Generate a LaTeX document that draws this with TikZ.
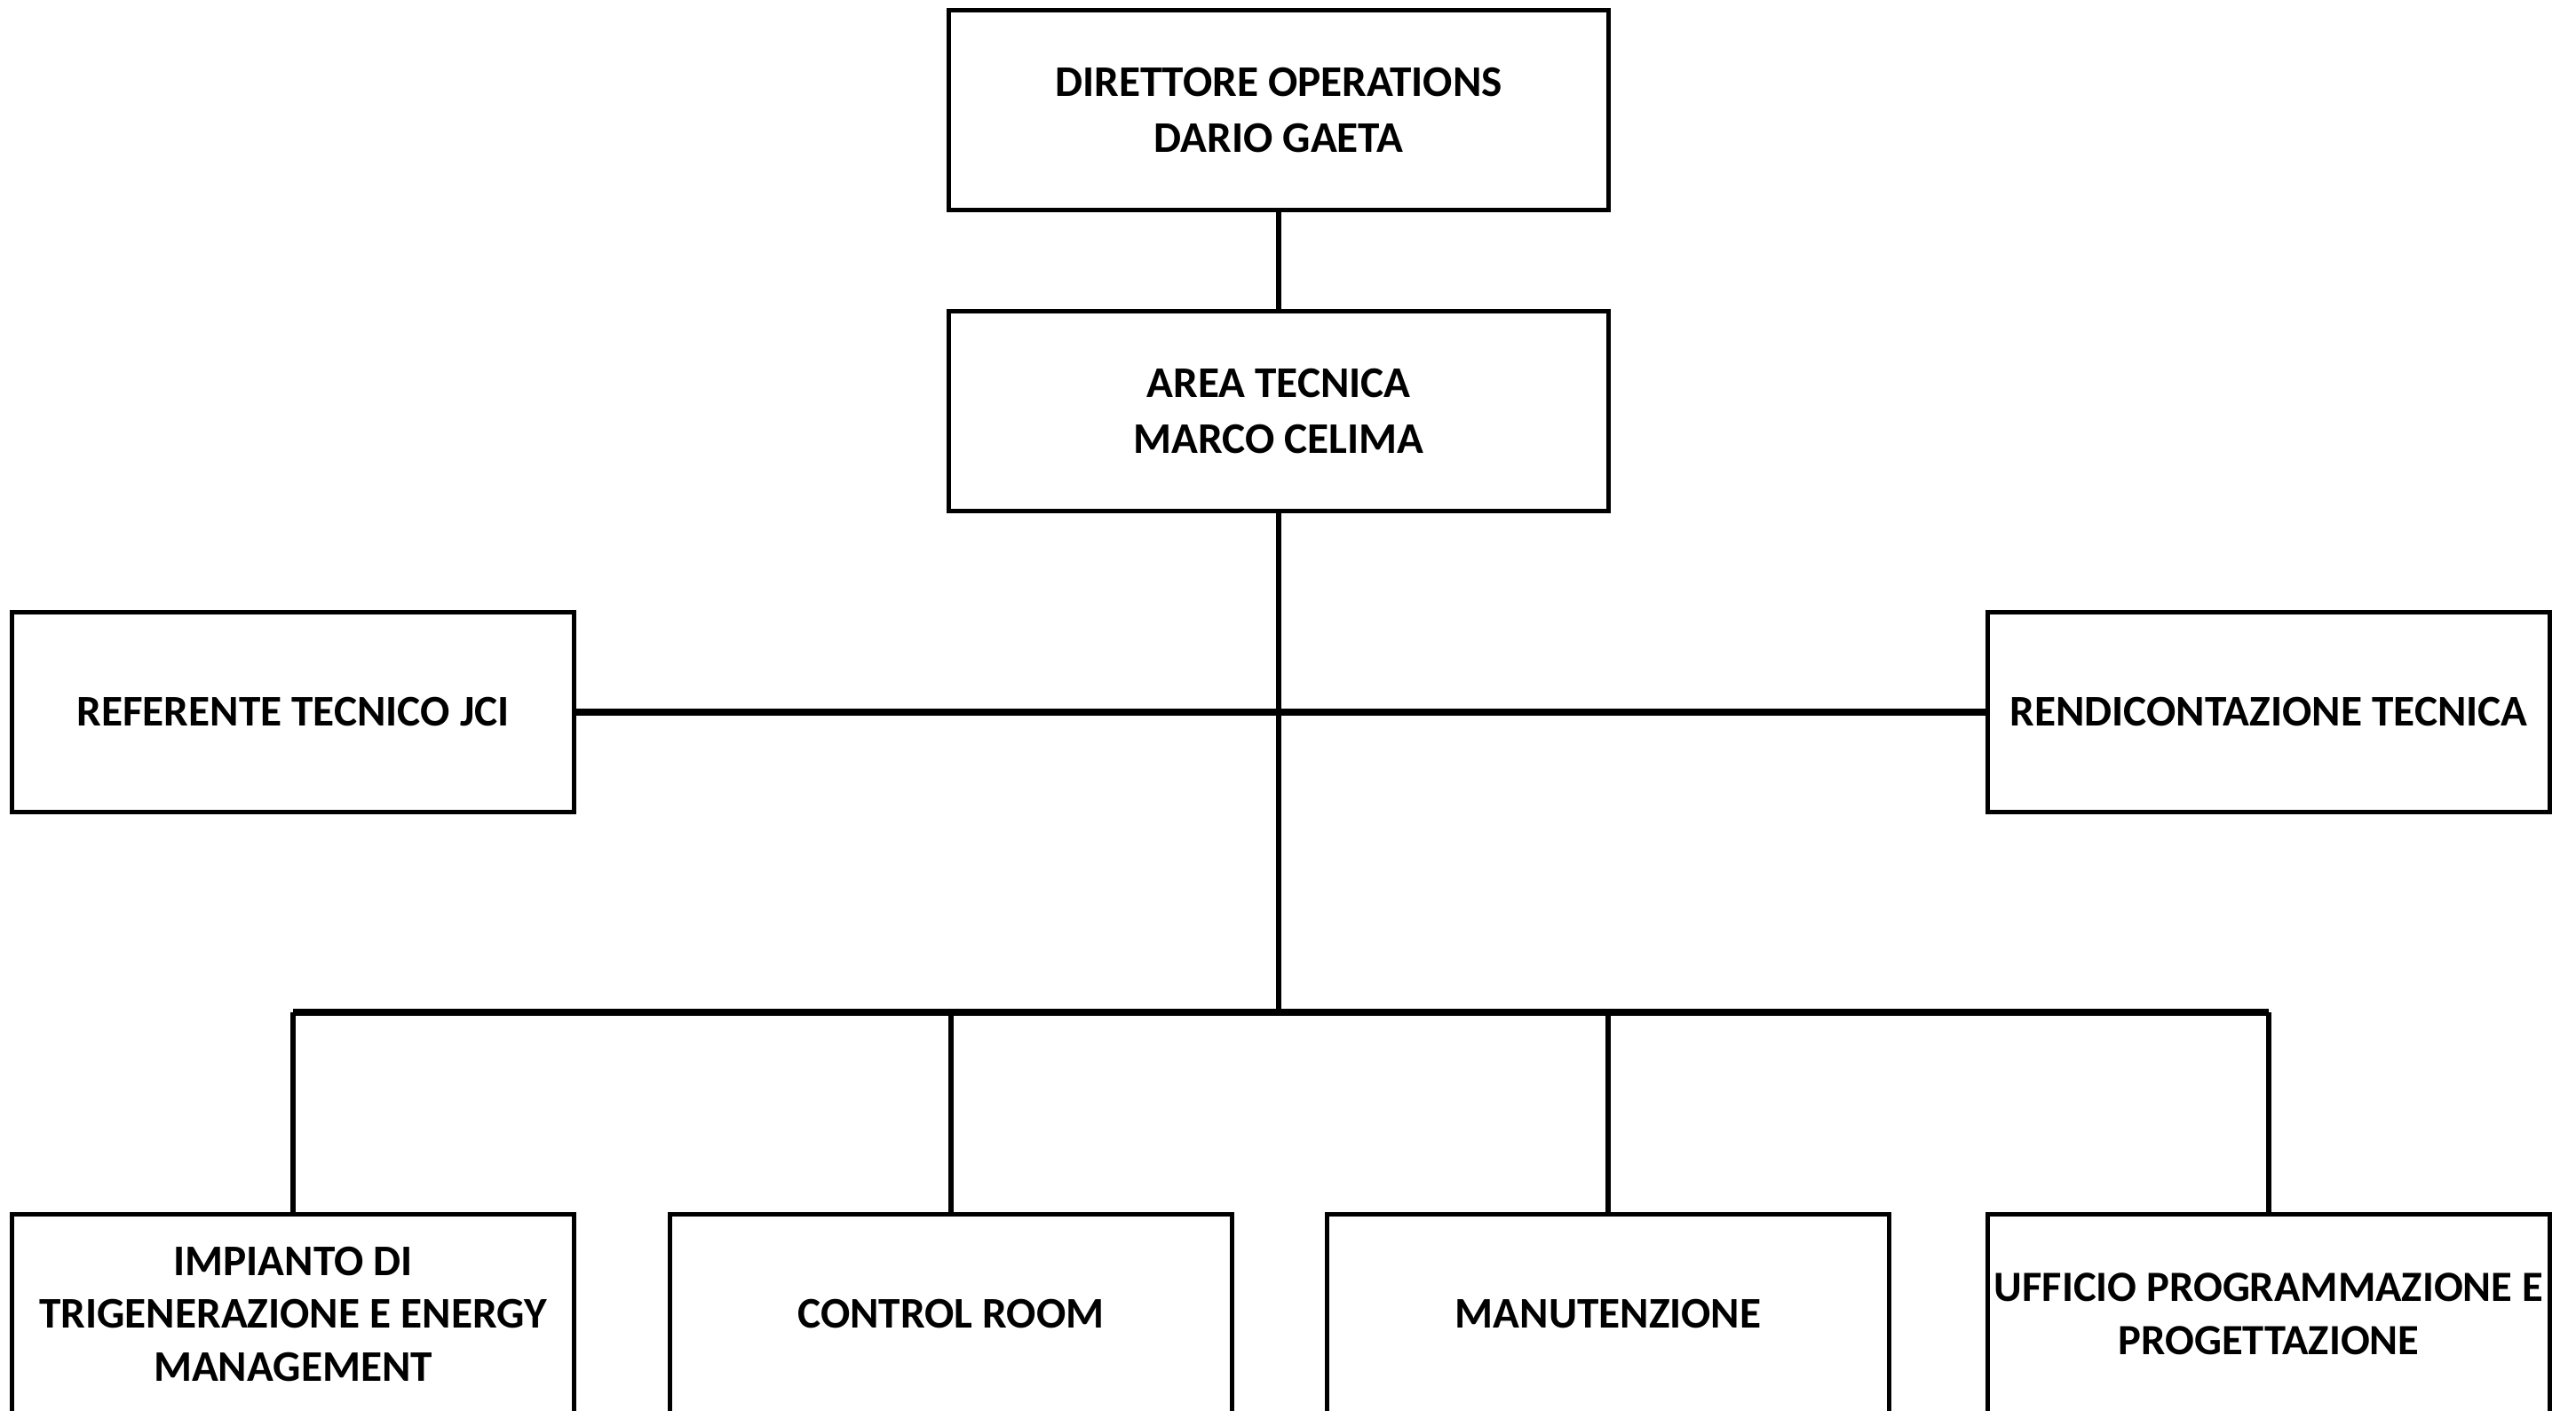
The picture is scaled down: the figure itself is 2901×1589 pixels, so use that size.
\documentclass[tikz,border=0pt]{standalone}
\usepackage{fontspec}
\setmainfont{Carlito}
\usepackage{tikz}

\begin{document}
\begin{tikzpicture}[x=0.01cm,y=-0.01cm]
        \tikzstyle{every node}=[draw,line width=1.5pt,align=center,inner xsep=0pt,inner ysep=2pt,minimum height=2.25cm,font=\fontsize{14}{18}\selectfont\bfseries]
        \tikzstyle{head}=[minimum width=7.42cm]
        \tikzstyle{unit}=[minimum width=6.32cm]
        \tikzstyle{link}=[line width=1.5pt]
        \tikzstyle{rail}=[line width=2pt]
        \useasboundingbox (0,0) rectangle (2901,1589);
        \node[head] (dir) at (1440,124) {DIRETTORE OPERATIONS\\DARIO GAETA};
        \node[head] (area) at (1440,463) {AREA TECNICA\\MARCO CELIMA};
        \node[unit] (ref) at (330,802) {REFERENTE TECNICO JCI};
        \node[unit] (rend) at (2555,802) {RENDICONTAZIONE TECNICA};
        \node[unit,font=\fontsize{14}{17}\selectfont\bfseries] (imp) at (330,1480) {IMPIANTO DI\\TRIGENERAZIONE E ENERGY\\MANAGEMENT};
        \node[unit] (ctrl) at (1071,1480) {CONTROL ROOM};
        \node[unit] (man) at (1811,1480) {MANUTENZIONE};
        \node[unit,font=\fontsize{13.8}{17}\selectfont\bfseries] (uff) at (2555,1480) {UFFICIO PROGRAMMAZIONE E\\PROGETTAZIONE};
        \coordinate (bus) at (1440,1140);
        \draw[link] (dir) -- (area);
        \draw[link] (area) -- (bus);
        \draw[rail] (ref) -- (rend);
        \draw[rail] (bus -| imp) -- (bus -| uff);
        \foreach \n in {imp,ctrl,man,uff} \draw[link] (bus -| \n) -- (\n);
    \end{tikzpicture}
\end{document}
